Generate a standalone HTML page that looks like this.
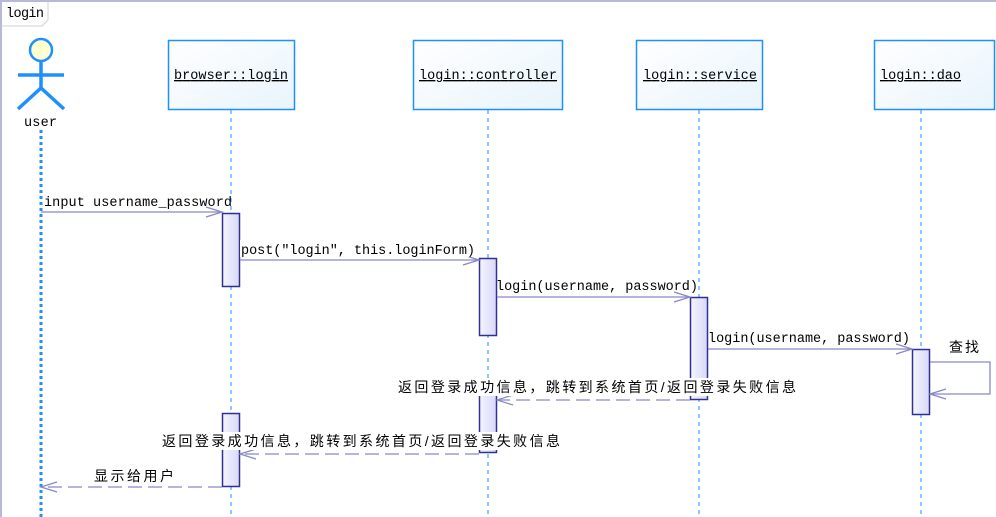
<!DOCTYPE html>
<html><head><meta charset="utf-8"><style>
html,body{margin:0;padding:0;background:#fff;width:996px;height:517px;overflow:hidden}
text{font-family:"Liberation Mono","Noto Sans CJK SC",monospace;font-size:13.5px;fill:#000}
.cn{font-family:"Liberation Sans","Noto Sans CJK SC",sans-serif;font-size:14px}
</style></head><body>
<svg width="996" height="517" xmlns="http://www.w3.org/2000/svg">
<defs>
<linearGradient id="g" x1="0" y1="0" x2="1" y2="1"><stop offset="0" stop-color="#fff"/><stop offset="1" stop-color="#e8f4fc"/></linearGradient>
<linearGradient id="a" x1="0" y1="0" x2="1" y2="0"><stop offset="0" stop-color="#f4f4ff"/><stop offset="1" stop-color="#d8d8f8"/></linearGradient>
</defs>
<line x1="0" y1="1" x2="996" y2="1" stroke="#b8b8d8" stroke-width="2"/>
<line x1="1" y1="0" x2="1" y2="517" stroke="#b8b8d8" stroke-width="2"/>
<path d="M1,26 H42 L48,20 V1" fill="none" stroke="#d0d0d8"/>
<text x="6" y="17" textLength="38">login</text>
<line x1="41" y1="112" x2="41" y2="517" stroke="#1e8fff" stroke-width="3" stroke-dasharray="3,3"/>
<g stroke="#1e8fff" stroke-width="1" stroke-dasharray="4,4">
<line x1="231" y1="110" x2="231" y2="517"/>
<line x1="488" y1="110" x2="488" y2="517"/>
<line x1="699" y1="110" x2="699" y2="517"/>
<line x1="921" y1="110" x2="921" y2="517"/>
</g>
<g stroke="#1e8fff" stroke-width="3.5" fill="none">
<circle cx="41" cy="50" r="11" fill="#ffffd0" stroke-width="2.5"/>
<line x1="18" y1="75" x2="64" y2="75"/>
<line x1="41" y1="61" x2="41" y2="88"/>
<polyline points="18,109 41,88 64,109"/>
</g>
<rect x="24" y="112" width="34" height="16" fill="#fff"/>
<text x="24" y="126" textLength="33">user</text>
<g fill="url(#g)" stroke="#1e8fff" stroke-width="1.5">
<rect x="168.5" y="40.5" width="126" height="69"/>
<rect x="413.5" y="40.5" width="149" height="69"/>
<rect x="636.5" y="40.5" width="126" height="69"/>
<rect x="874.5" y="40.5" width="120" height="69"/>
</g>
<text x="174" y="79" textLength="114" text-decoration="underline">browser::login</text>
<text x="419" y="79" textLength="138" text-decoration="underline">login::controller</text>
<text x="643" y="79" textLength="114" text-decoration="underline">login::service</text>
<text x="880" y="79" textLength="81" text-decoration="underline">login::dao</text>
<g fill="url(#a)" stroke="#303090" stroke-width="1.5">
<rect x="222.5" y="213.5" width="17" height="73"/>
<rect x="479.5" y="258.5" width="17" height="77"/>
<rect x="690.5" y="297.5" width="17" height="102"/>
<rect x="912.5" y="349.5" width="17" height="65"/>
<rect x="479.5" y="393.5" width="17" height="59"/>
<rect x="222.5" y="413.5" width="17" height="73"/>
</g>
<g stroke="#8888c8" stroke-width="1.3" fill="none">
<line x1="41" y1="212" x2="222" y2="212"/><polyline points="206,207 222,212 206,217"/>
<line x1="240" y1="260" x2="479" y2="260"/><polyline points="463,255 479,260 463,265"/>
<line x1="497" y1="297" x2="690" y2="297"/><polyline points="674,292 690,297 674,302"/>
<line x1="708" y1="349" x2="912" y2="349"/><polyline points="896,344 912,349 896,354"/>
<polyline points="930,362 990,362 990,394 930,394"/><polyline points="946,389 930,394 946,399"/>
<g stroke-dasharray="14,6">
<line x1="690" y1="400" x2="497" y2="400"/>
<line x1="479" y1="454" x2="240" y2="454"/>
<line x1="222" y1="487" x2="41" y2="487"/>
</g>
<polyline points="513,395 497,400 513,405"/>
<polyline points="256,449 240,454 256,459"/>
<polyline points="57,482 41,487 57,492"/>
</g>
<text x="44" y="206" textLength="188">input username_password</text>
<rect x="240" y="240" width="236" height="17" fill="#fff"/>
<text x="241" y="254" textLength="234">post("login", this.loginForm)</text>
<text x="496" y="290" textLength="202">login(username, password)</text>
<text x="708" y="342" textLength="202">login(username, password)</text>
<text class="cn" x="949" y="352" textLength="30">查找</text>
<rect x="397" y="378" width="400" height="18" fill="#fff"/>
<text class="cn" x="398" y="392" textLength="398">返回登录成功信息，跳转到系统首页/返回登录失败信息</text>
<rect x="161" y="432" width="400" height="18" fill="#fff"/>
<text class="cn" x="162" y="446" textLength="398">返回登录成功信息，跳转到系统首页/返回登录失败信息</text>
<text class="cn" x="94" y="481" textLength="80">显示给用户</text>
</svg>
</body></html>
